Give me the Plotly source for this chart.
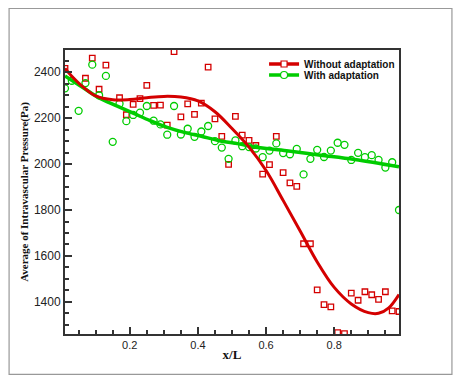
import plotly.graph_objects as go

# ---- data ----
red_x = [0.01, 0.07, 0.09, 0.11, 0.13, 0.17, 0.19, 0.21, 0.23, 0.25, 0.27, 0.29, 0.31, 0.33,
         0.35, 0.37, 0.39, 0.41, 0.43, 0.45, 0.47, 0.49, 0.51, 0.53, 0.55, 0.57, 0.59, 0.61,
         0.63, 0.65, 0.67, 0.69, 0.71, 0.73, 0.75, 0.77, 0.79, 0.81, 0.83, 0.85, 0.87, 0.89,
         0.91, 0.93, 0.95, 0.97, 0.99]
red_y = [2417, 2374, 2462, 2326, 2431, 2289, 2215, 2260, 2285, 2343, 2256, 2257, 2170, 2490,
         2206, 2262, 2217, 2266, 2422, 2197, 2121, 1999, 2208, 2126, 2103, 2081, 1956, 1998,
         2121, 1963, 1918, 1903, 1653, 1653, 1452, 1388, 1378, 1266, 1262, 1438, 1407, 1444,
         1431, 1411, 1444, 1361, 1358]

green_x = [0.01, 0.03, 0.05, 0.07, 0.09, 0.11, 0.13, 0.15, 0.17, 0.19, 0.21, 0.23, 0.25, 0.27,
           0.29, 0.31, 0.33, 0.35, 0.37, 0.39, 0.41, 0.43, 0.45, 0.47, 0.49, 0.51, 0.53, 0.55,
           0.57, 0.59, 0.61, 0.63, 0.65, 0.67, 0.69, 0.71, 0.73, 0.75, 0.77, 0.79, 0.81, 0.83,
           0.85, 0.87, 0.89, 0.91, 0.93, 0.95, 0.97, 0.99]
green_y = [2330, 2363, 2232, 2353, 2433, 2300, 2384, 2097, 2263, 2187, 2214, 2224, 2253, 2189,
           2173, 2128, 2253, 2129, 2154, 2119, 2142, 2166, 2100, 2072, 2023, 2103, 2078, 2074,
           2068, 2030, 2059, 2090, 2048, 2043, 2066, 1955, 2023, 2062, 2031, 2059, 2093, 2084,
           2018, 2049, 2030, 2039, 2018, 1985, 2008, 1800]

red_fit_x = [0.01, 0.03, 0.06, 0.10, 0.15, 0.20, 0.25, 0.30, 0.35, 0.40, 0.45, 0.50, 0.55,
             0.60, 0.65, 0.70, 0.75, 0.80, 0.85, 0.90, 0.93, 0.96, 0.99]
red_fit_y = [2417, 2383, 2340, 2297, 2280, 2281, 2289, 2295, 2292, 2275, 2228, 2155, 2074,
             1972, 1842, 1709, 1574, 1463, 1391, 1353, 1350, 1374, 1432]

green_fit_x = [0.01, 0.06, 0.11, 0.16, 0.21, 0.26, 0.31, 0.36, 0.41, 0.46, 0.52, 0.56,
               0.66, 0.76, 0.86, 0.99]
green_fit_y = [2384, 2336, 2288, 2255, 2222, 2189, 2160, 2138, 2121, 2103, 2088, 2076,
               2058, 2039, 2020, 1988]

names = ["Without adaptation", "With adaptation"]
x_ticks = [0.2, 0.4, 0.6, 0.8]
y_ticks = [1400, 1600, 1800, 2000, 2200, 2400]

RED = "#d40000"
GREEN = "#00cc00"

fig = go.Figure()
fig.add_trace(go.Scatter(x=red_x, y=red_y, mode="markers", showlegend=False,
                         marker=dict(symbol="square-open", size=5.5, color=RED, line=dict(width=1.3))))
fig.add_trace(go.Scatter(x=green_x, y=green_y, mode="markers", showlegend=False,
                         marker=dict(symbol="circle-open", size=7, color=GREEN, line=dict(width=1.3))))
fig.add_trace(go.Scatter(x=green_fit_x, y=green_fit_y, mode="lines", showlegend=False,
                         line=dict(color=GREEN, width=3.5, shape="spline", smoothing=1.0)))
fig.add_trace(go.Scatter(x=red_fit_x, y=red_fit_y, mode="lines", showlegend=False,
                         line=dict(color=RED, width=3, shape="spline", smoothing=1.0)))
# legend entries (two separate legends for tight row spacing)
fig.add_trace(go.Scatter(x=[None], y=[None], mode="lines+markers", name="<b>" + names[0] + "</b>",
                         legend="legend",
                         line=dict(color=RED, width=3.5),
                         marker=dict(symbol="square", size=6, color="white",
                                     line=dict(color=RED, width=1.2))))
fig.add_trace(go.Scatter(x=[None], y=[None], mode="lines+markers", name="<b>" + names[1] + "</b>",
                         legend="legend2",
                         line=dict(color=GREEN, width=3.5),
                         marker=dict(symbol="circle", size=7, color="white",
                                     line=dict(color=GREEN, width=1.2))))

axis_common = dict(showgrid=False, zeroline=False, showline=True, linecolor="#333333",
                   linewidth=2, mirror=True, ticks="inside", tickcolor="#333333",
                   tickwidth=1.5, ticklen=7, automargin=False)

legend_font = dict(family="Arial, Liberation Sans", size=10, color="#111111")

fig.update_layout(
    width=445, height=368,
    margin=dict(l=56.5, r=54, t=42, b=42.3, autoexpand=False),
    paper_bgcolor="white", plot_bgcolor="white",
    xaxis=dict(range=[0.01, 0.99], tickvals=x_ticks, ticktext=[str(v) for v in x_ticks],
               minor=dict(dtick=0.05, tick0=0, ticks="inside", ticklen=4, tickcolor="#333333"),
               tickfont=dict(family="Arial, Liberation Sans", size=11, color="#222222"),
               title=dict(text="<b>x/L</b>", standoff=0,
                          font=dict(family="Liberation Serif, Times New Roman", size=13, color="#111111")),
               **axis_common),
    yaxis=dict(range=[1260, 2497], tickvals=y_ticks, ticktext=[str(v) for v in y_ticks],
               minor=dict(dtick=50, tick0=0, ticks="inside", ticklen=4, tickcolor="#333333"),
               tickfont=dict(family="Arial, Liberation Sans", size=12, color="#222222"),
               title=dict(text="<b>Average of Intravascular Pressure(Pa)</b>", standoff=3,
                          font=dict(family="Liberation Serif, Times New Roman", size=11, color="#111111")),
               **axis_common),
    legend=dict(x=0.596, y=0.9507, xanchor="left", yanchor="middle", bgcolor="rgba(0,0,0,0)",
                font=legend_font),
    legend2=dict(x=0.596, y=0.9119, xanchor="left", yanchor="middle", bgcolor="rgba(0,0,0,0)",
                 font=legend_font),
    shapes=[dict(type="rect", xref="paper", yref="paper", x0=-0.1674, x1=1.1585, y0=-0.142, y1=1.1463,
                 line=dict(color="#999999", width=1.2), layer="below")],
)

fig.write_html("out.html")
